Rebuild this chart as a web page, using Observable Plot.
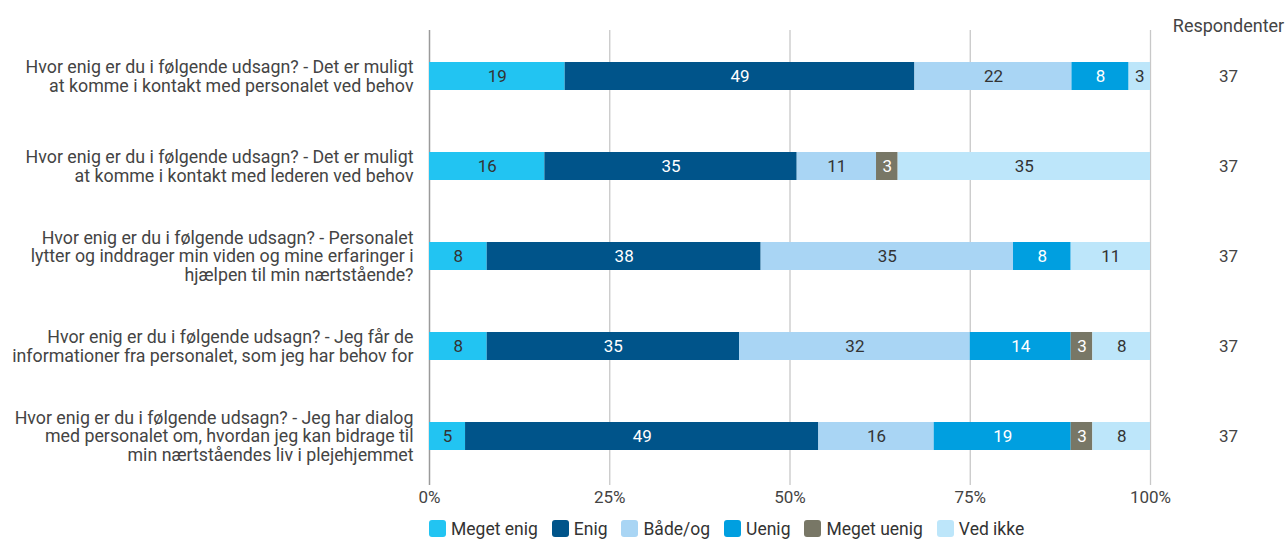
<!DOCTYPE html>
<html>
<head>
<meta charset="utf-8">
<script src="https://cdn.jsdelivr.net/npm/d3@7"></script>
<script src="https://cdn.jsdelivr.net/npm/@observablehq/plot@0.6"></script>
<style>
  html, body { margin: 0; padding: 0; background: #fff; }
  body { width: 1286px; height: 543px; overflow: hidden; font-family: Roboto, sans-serif; }
  #legend { margin-left: 429px; margin-top: 0px; }
  #legend svg rect { rx: 3px; ry: 3px; }
  .lg-swatch { margin-right: 14px !important; }
  .lg-swatch svg { margin-right: 5px !important; }
</style>
</head>
<body>
<div id="chart"></div>
<div id="legend"></div>
<script>
const questions = [
  "Hvor enig er du i følgende udsagn? - Det er muligt\nat komme i kontakt med personalet ved behov",
  "Hvor enig er du i følgende udsagn? - Det er muligt\nat komme i kontakt med lederen ved behov",
  "Hvor enig er du i følgende udsagn? - Personalet\nlytter og inddrager min viden og mine erfaringer i\nhjælpen til min nærtstående?",
  "Hvor enig er du i følgende udsagn? - Jeg får de\ninformationer fra personalet, som jeg har behov for",
  "Hvor enig er du i følgende udsagn? - Jeg har dialog\nmed personalet om, hvordan jeg kan bidrage til\nmin nærtståendes liv i plejehjemmet"
];
const answers = ["Meget enig", "Enig", "Både/og", "Uenig", "Meget uenig", "Ved ikke"];
const colors = ["#22c4f2", "#00548a", "#a9d5f4", "#009fe0", "#787766", "#bde6fa"];
const labelColors = ["#333333", "#ffffff", "#333333", "#ffffff", "#ffffff", "#333333"];

// percentages per question, in answer order (0 = not present)
const megetEnig  = [19, 16, 8, 8, 5];
const enig       = [49, 35, 38, 35, 49];
const badeOg     = [22, 11, 35, 32, 16];
const uenig      = [8, 0, 8, 14, 19];
const megetUenig = [0, 3, 0, 3, 3];
const vedIkke    = [3, 35, 11, 8, 8];
const respondenter = [37, 37, 37, 37, 37];
const xTicks = [0, 0.25, 0.5, 0.75, 1];

const series = [megetEnig, enig, badeOg, uenig, megetUenig, vedIkke];
const data = [];
questions.forEach((q, i) => {
  answers.forEach((a, j) => {
    const v = series[j][i];
    if (v > 0) data.push({q, a, v, lc: labelColors[j]});
  });
});
const resp = questions.map((q, i) => ({q, n: respondenter[i]}));

const chart = Plot.plot({
  width: 1286,
  height: 512,
  marginLeft: 429,
  marginRight: 136,
  marginTop: 31,
  marginBottom: 31,
  style: {fontFamily: "Roboto, sans-serif", fontSize: "17px", color: "#444"},
  x: {domain: [0, 1], ticks: xTicks, tickFormat: d3.format(".0%"), label: null},
  y: {domain: questions, paddingInner: 0.69, paddingOuter: 0.345, label: null},
  color: {domain: answers, range: colors},
  marks: [
    Plot.ruleX(xTicks.slice(1), {stroke: "#c8c8c8", strokeWidth: 1.3, insetTop: -1, insetBottom: -4}),
    Plot.ruleX([0], {stroke: "#9a9a9a", strokeWidth: 1.5, insetTop: -1, insetBottom: -4}),
    Plot.barX(data, Plot.stackX({x: "v", y: "q", fill: "a", z: "a", offset: "normalize", order: answers})),
    Plot.text(data, Plot.stackX({x: "v", y: "q", z: "a", offset: "normalize", order: answers, text: "v", fill: "lc", fontSize: 17})),
    Plot.text(resp, {y: "q", text: "n", frameAnchor: "right", dx: 78, textAnchor: "middle", fill: "#444", fontSize: 17}),
    Plot.text(["Respondenter"], {frameAnchor: "top-right", text: d => d, dx: 78, dy: -12, textAnchor: "middle", fill: "#444", fontSize: 18}),
    Plot.axisX({ticks: xTicks, tickFormat: d3.format(".0%"), tickSize: 0, tickPadding: 9, fontSize: 17, fill: "#444"}),
    Plot.axisY({tickSize: 0, tickPadding: 16, fontSize: 17.8, fill: "#444", lineHeight: 1.04, textOverflow: null, lineWidth: Infinity})
  ]
});
document.getElementById("chart").appendChild(chart);

const legend = Plot.legend({
  color: {domain: answers, range: colors},
  swatchSize: 17,
  className: "lg",
  style: {fontFamily: "Roboto, sans-serif", fontSize: "17.5px", color: "#333"}
});
document.getElementById("legend").appendChild(legend);
</script>
</body>
</html>
